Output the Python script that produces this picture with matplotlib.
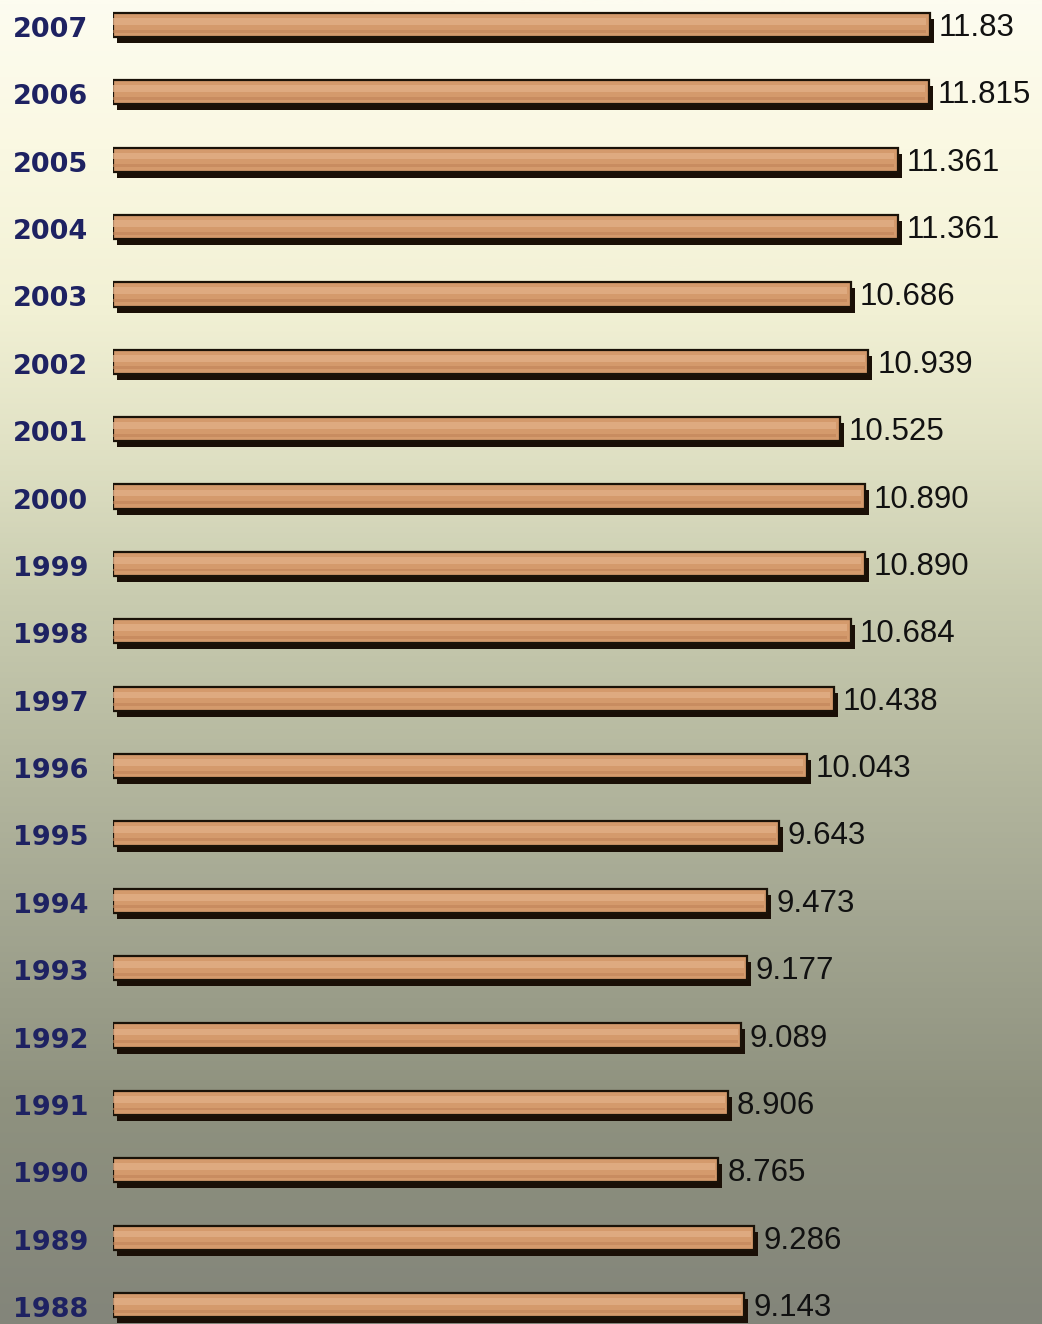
import matplotlib
matplotlib.use("Agg")
import matplotlib.pyplot as plt
import matplotlib.transforms as mtransforms
from matplotlib.colors import LinearSegmentedColormap
import numpy as np

years = ["2007", "2006", "2005", "2004", "2003", "2002", "2001", "2000", "1999", "1998",
         "1997", "1996", "1995", "1994", "1993", "1992", "1991", "1990", "1989", "1988"]
values = [11.83, 11.815, 11.361, 11.361, 10.686, 10.939, 10.525, 10.890, 10.890, 10.684,
          10.438, 10.043, 9.643, 9.473, 9.177, 9.089, 8.906, 8.765, 9.286, 9.143]
value_labels = ["11.83", "11.815", "11.361", "11.361", "10.686", "10.939", "10.525", "10.890",
                "10.890", "10.684", "10.438", "10.043", "9.643", "9.473", "9.177", "9.089",
                "8.906", "8.765", "9.286", "9.143"]

W, H = 1042, 1324
dpi = 100
fig = plt.figure(figsize=(W / dpi, H / dpi), dpi=dpi)

# background gradient
bg_ax = fig.add_axes([0, 0, 1, 1], zorder=0)
bg_ax.set_axis_off()
stops = [(0.0, "#FDFCF0"), (0.11, "#FAF8E2"), (0.23, "#F2F1D5"), (0.34, "#E0E1C4"),
         (0.45, "#C9CCB0"), (0.57, "#B6B9A0"), (0.68, "#A5A893"), (0.83, "#8F927F"),
         (1.0, "#83857A")]
cmap = LinearSegmentedColormap.from_list("bg", stops)
grad = np.linspace(0, 1, 512).reshape(-1, 1)
bg_ax.imshow(grad, aspect="auto", cmap=cmap, extent=[0, 1, 1, 0])
bg_ax.set_xlim(0, 1)
bg_ax.set_ylim(1, 0)

# main axes
left_px = 113
px_per_unit = 69.06
ax = fig.add_axes([left_px / W, 0, 1 - left_px / W, 1], zorder=1)
ax.patch.set_alpha(0)
ax.set_xlim(0, (W - left_px) / px_per_unit)
row_px = 67.37
top_px = 25
ax.set_ylim((H - top_px) / row_px, -top_px / row_px)

pos = np.arange(len(years))
bar_h = 0.36

shadow_tr = mtransforms.offset_copy(ax.transData, fig=fig, x=4, y=-6, units="dots")
ax.barh(pos, values, height=bar_h, color="#1a0f06", edgecolor="none",
        transform=shadow_tr, zorder=2)
ax.barh(pos, values, height=bar_h, color="#D49A6C", edgecolor="#1a1208",
        linewidth=1.6, zorder=3)
# lighter streak on the upper part of each bar to suggest wood grain
ax.barh(pos - bar_h * 0.15, [v * 0.995 for v in values], height=bar_h * 0.28,
        color="#E2B088", edgecolor="none", zorder=4, alpha=0.75)
ax.barh(pos + bar_h * 0.25, [v * 0.995 for v in values], height=bar_h * 0.12,
        color="#C08458", edgecolor="none", zorder=4, alpha=0.6)

for i, (v, lab) in enumerate(zip(values, value_labels)):
    ax.annotate(lab, xy=(v, i), xytext=(9, -3), textcoords="offset pixels",
                ha="left", va="center", fontsize=22.5, family="Liberation Sans",
                color="#111111", zorder=5)

ax.set_yticks(pos)
ax.set_yticklabels(years, fontsize=19.5, fontweight="bold", color="#1E2262",
                   family="DejaVu Sans")
ax.tick_params(axis="y", length=0, pad=18)
ax.tick_params(axis="x", bottom=False, labelbottom=False)
for lbl in ax.get_yticklabels():
    lbl.set_transform(lbl.get_transform() + mtransforms.Affine2D().translate(0, -2))
for s in ax.spines.values():
    s.set_visible(False)

fig.savefig("out.png", dpi=dpi)
